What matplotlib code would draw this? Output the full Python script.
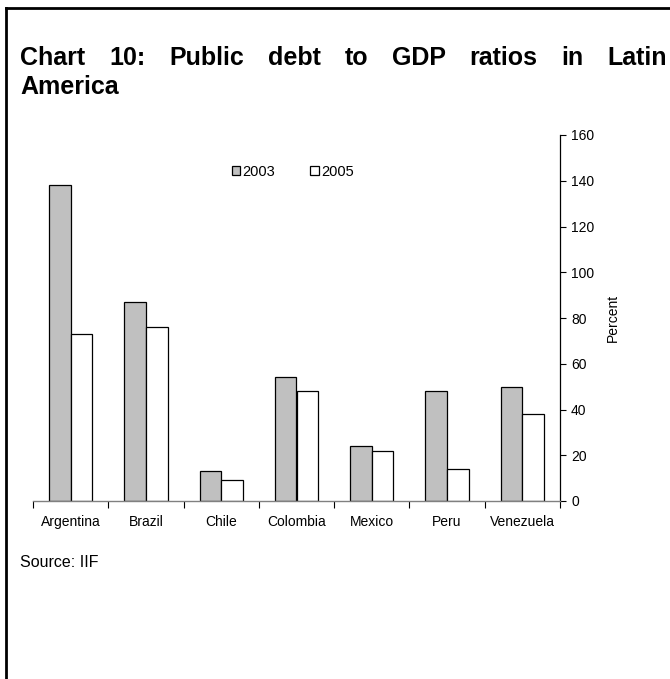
import matplotlib
matplotlib.use("Agg")
import matplotlib.pyplot as plt
import numpy as np
from matplotlib.lines import Line2D

plt.rcParams['font.family'] = ['Liberation Sans', 'DejaVu Sans']

countries = ['Argentina', 'Brazil', 'Chile', 'Colombia', 'Mexico', 'Peru', 'Venezuela']
debt_2003 = [138, 87, 13, 54, 24, 48, 50]
debt_2005 = [73, 76, 9, 48, 22, 14, 38]
yticks = [0, 20, 40, 60, 80, 100, 120, 140, 160]

W, H = 670, 679
fig = plt.figure(figsize=(W / 100, H / 100), dpi=100)

# frame around the whole panel (only top and left edges fall inside the image)
fig.add_artist(Line2D([6 / W, 6 / W], [0, 1 - 8 / H], color='black', lw=2))
fig.add_artist(Line2D([6 / W, 1], [1 - 8 / H, 1 - 8 / H], color='black', lw=2))

# justified title, first line
words = 'Chart 10: Public debt to GDP ratios in Latin'.split()
x0, x1 = 20, 667
texts = [fig.text(0, 1 - 65 / H, w, fontsize=18, fontweight='bold', va='baseline') for w in words]
fig.canvas.draw()
r = fig.canvas.get_renderer()
widths = [t.get_window_extent(r).width for t in texts]
gap = (x1 - x0 - sum(widths)) / (len(words) - 1)
x = x0
for t, w in zip(texts, widths):
    t.set_x(x / W)
    x += w + gap
fig.text(x0 / W, 1 - 94 / H, 'America', fontsize=18, fontweight='bold', va='baseline')

ax = fig.add_axes([33 / W, 1 - 501 / H, (560 - 33) / W, (501 - 135) / H])
pos = np.arange(len(countries))
bw = 0.287
ax.bar(pos - bw / 2, debt_2003, bw, color='#c0c0c0', edgecolor='black', lw=0.9, label='2003')
ax.bar(pos + bw / 2, debt_2005, bw, color='white', edgecolor='black', lw=0.9, label='2005')

ax.set_xlim(-0.5, len(countries) - 0.5)
ax.set_ylim(0, 160)
ax.set_xticks(pos)
ax.set_xticklabels(countries, fontsize=10)
ax.set_xticks(np.arange(-0.5, len(countries)), minor=True)
ax.tick_params(axis='x', which='major', length=0, pad=10)
ax.tick_params(axis='x', which='minor', length=5, direction='out', width=0.8)

ax.yaxis.tick_right()
ax.yaxis.set_label_position('right')
ax.set_yticks(yticks)
ax.tick_params(axis='y', labelsize=10, length=4, width=0.8, pad=4)
ax.set_ylabel('Percent', fontsize=10, labelpad=8)

for s in ['top', 'left']:
    ax.spines[s].set_visible(False)
ax.spines['right'].set_linewidth(0.9)
ax.spines['bottom'].set_color('#808080')
ax.spines['bottom'].set_linewidth(1)

ax.legend(loc='center', bbox_to_anchor=(0.493, 0.899), ncol=2, frameon=False,
          fontsize=10.5, handlelength=0.6, handleheight=0.6, handletextpad=0.15,
          columnspacing=2.4, borderpad=0)

fig.text(20 / W, 1 - 567 / H, 'Source: IIF', fontsize=11.5, va='baseline')

fig.savefig('out.png', dpi=100)
